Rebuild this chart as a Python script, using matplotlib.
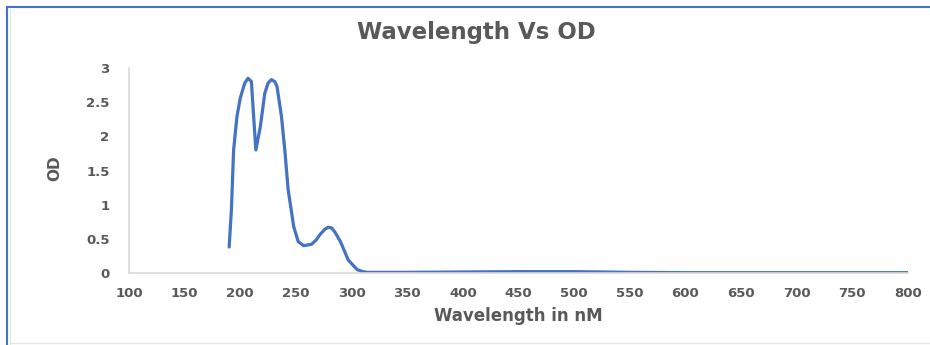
import matplotlib
matplotlib.use("Agg")
import matplotlib.pyplot as plt
from matplotlib.lines import Line2D

# absorbance spectrum
wavelength = [190, 192, 194, 197, 200, 204, 207, 210, 212, 214, 218, 222, 225, 228, 231, 233,
              237, 240, 243, 248, 252, 257, 264, 268, 272, 276, 279, 282, 285, 290, 297, 305,
              310, 314, 330, 350, 400, 450, 500, 550, 600, 700, 800]
od = [0.38, 0.92, 1.80, 2.29, 2.56, 2.78, 2.85, 2.80, 2.29, 1.80, 2.14, 2.63, 2.78, 2.83, 2.80,
      2.73, 2.29, 1.80, 1.22, 0.68, 0.46, 0.40, 0.42, 0.48, 0.57, 0.64, 0.67, 0.66, 0.60, 0.46,
      0.19, 0.05, 0.02, 0.01, 0.01, 0.01, 0.015, 0.02, 0.02, 0.01, 0.005, 0.005, 0.005]

x_ticks = list(range(100, 801, 50))
y_ticks = [0, 0.5, 1, 1.5, 2, 2.5, 3]
y_labels = ["0", "0.5", "1", "1.5", "2", "2.5", "3"]

text_grey = "#595959"
axis_grey = "#D9D9D9"
blue = "#4472C4"

fig = plt.figure(figsize=(9.3, 3.45), dpi=100)
ax = fig.add_axes([129 / 930, 1 - 273 / 345, (908 - 129) / 930, (273 - 68) / 345])

ax.plot(wavelength, od, color=blue, linewidth=2.3, solid_capstyle="round", solid_joinstyle="round")

ax.set_xlim(100, 800)
ax.set_ylim(0, 3)
ax.set_xticks(x_ticks)
ax.set_yticks(y_ticks)
ax.set_yticklabels(y_labels)
ax.tick_params(axis="both", length=0, labelsize=9.5, labelcolor=text_grey)
ax.tick_params(axis="x", pad=10)
ax.tick_params(axis="y", pad=14)
for lbl in ax.get_xticklabels() + ax.get_yticklabels():
    lbl.set_fontweight("bold")

for side in ["top", "right"]:
    ax.spines[side].set_visible(False)
for side in ["left", "bottom"]:
    ax.spines[side].set_color(axis_grey)
    ax.spines[side].set_linewidth(1.2)

fig.text(476 / 930, 1 - 33 / 345, "Wavelength Vs OD", ha="center", va="center",
         fontsize=16.5, fontweight="bold", color=text_grey)
fig.text(518 / 930, 1 - 316 / 345, "Wavelength in nM", ha="center", va="center",
         fontsize=12, fontweight="bold", color=text_grey)
fig.text(55 / 930, 1 - 168 / 345, "OD", ha="center", va="center", rotation=90,
         fontsize=11, fontweight="bold", color=text_grey)

# frame around the pasted chart
fig.add_artist(Line2D([7 / 930, 7 / 930], [0, 1 - 7 / 345], color=blue, linewidth=1.5))
fig.add_artist(Line2D([7 / 930, 1], [1 - 7 / 345, 1 - 7 / 345], color=blue, linewidth=1.5))
fig.add_artist(Line2D([10 / 930, 10 / 930], [0, 1 - 10 / 345], color="#E6E6E6", linewidth=1))
fig.add_artist(Line2D([10 / 930, 1], [1 - 343 / 345, 1 - 343 / 345], color="#E6E6E6", linewidth=1))

fig.savefig("out.png", dpi=100)
